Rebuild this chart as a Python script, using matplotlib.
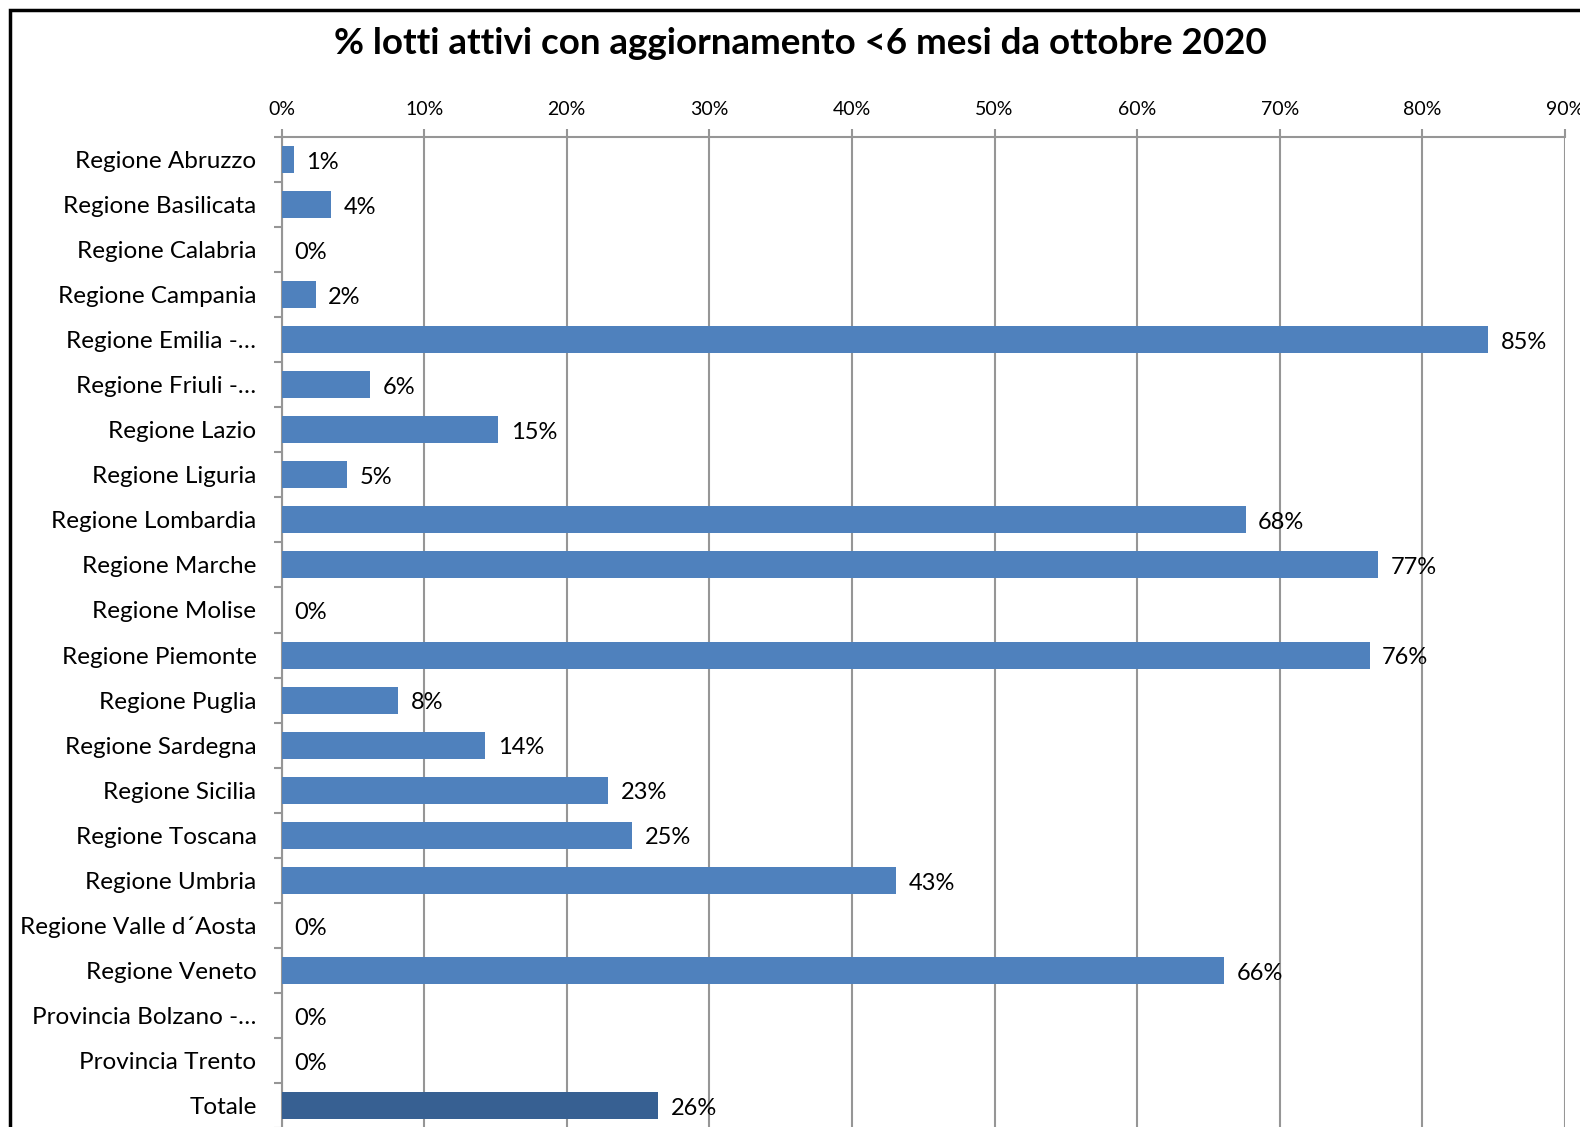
import numpy as np
import matplotlib
matplotlib.use("Agg")
from matplotlib import pyplot as plt
from matplotlib.patches import Rectangle
from matplotlib.ticker import FuncFormatter, MultipleLocator

# dati (percentuali)
regioni = ["Regione Abruzzo", "Regione Basilicata", "Regione Calabria",
           "Regione Campania", "Regione Emilia -\u2026", "Regione Friuli -\u2026",
           "Regione Lazio", "Regione Liguria", "Regione Lombardia",
           "Regione Marche", "Regione Molise", "Regione Piemonte",
           "Regione Puglia", "Regione Sardegna", "Regione Sicilia",
           "Regione Toscana", "Regione Umbria", "Regione Valle d\u00b4Aosta",
           "Regione Veneto", "Provincia Bolzano -\u2026", "Provincia Trento",
           "Totale"]
percentuali = [0.85, 3.5, 0.0, 2.4, 84.6, 6.2, 15.2, 4.6, 67.6, 76.9, 0.0,
               76.3, 8.2, 14.3, 22.9, 24.6, 43.1, 0.0, 66.1, 0.0, 0.0, 26.4]
etichette = ["%d%%" % round(v) for v in percentuali]

titolo = "% lotti attivi con aggiornamento <6 mesi da ottobre 2020"

COL_BAR = "#4F81BD"
COL_TOT = "#376092"
COL_GRID = "#969696"


def main():
    plt.rcParams['font.family'] = ['Lato', 'DejaVu Sans']

    fig = plt.figure(figsize=(15.8, 11.27), dpi=100)
    W, H = 1580, 1127
    # area del grafico in pixel
    left, right, top, bottom = 281.5, 1565, 137, 1128
    ax = fig.add_axes([left / W, 1 - bottom / H, (right - left) / W, (bottom - top) / H])

    n = len(regioni)
    y = np.arange(n)
    colori = [COL_BAR] * (n - 1) + [COL_TOT]
    ax.barh(y, percentuali, height=0.6, color=colori, zorder=3)

    for yi, v, lab in zip(y, percentuali, etichette):
        ax.annotate(lab, (v, yi), xytext=(9, -2), textcoords='offset points',
                    ha='left', va='center', fontsize=17, zorder=4)

    ax.set_ylim(n - 0.5, -0.5)
    ax.set_xlim(0, 90)
    ax.set_yticks(y)
    ax.set_yticklabels(regioni, fontsize=17.5)
    ax.set_yticks(np.arange(n + 1) - 0.5, minor=True)
    ax.tick_params(axis='y', which='major', length=0, pad=18)
    ax.tick_params(axis='y', which='minor', length=6, width=1.5, color=COL_GRID)

    ax.xaxis.set_major_locator(MultipleLocator(10))
    ax.xaxis.set_major_formatter(FuncFormatter(lambda x, p: "%d%%" % x))
    ax.xaxis.tick_top()
    ax.tick_params(axis='x', length=6, width=1.5, color=COL_GRID, labelsize=14, pad=8)
    ax.grid(axis='x', color=COL_GRID, linewidth=1.5, zorder=0)

    for s in ['right', 'bottom']:
        ax.spines[s].set_visible(False)
    for s in ['left', 'top']:
        ax.spines[s].set_color(COL_GRID)
        ax.spines[s].set_linewidth(1.5)

    fig.text(800 / W, 1 - 43 / H, titolo, ha='center', va='center',
             fontsize=26.5, fontweight='bold')

    # cornice esterna
    fig.patches.append(Rectangle((10 / W, -0.1), 1.2, 1 - 10 / H + 0.1,
                                 transform=fig.transFigure, fill=False,
                                 edgecolor='black', linewidth=2.5))

    fig.savefig("out.png", dpi=100)


if __name__ == "__main__":
    main()
